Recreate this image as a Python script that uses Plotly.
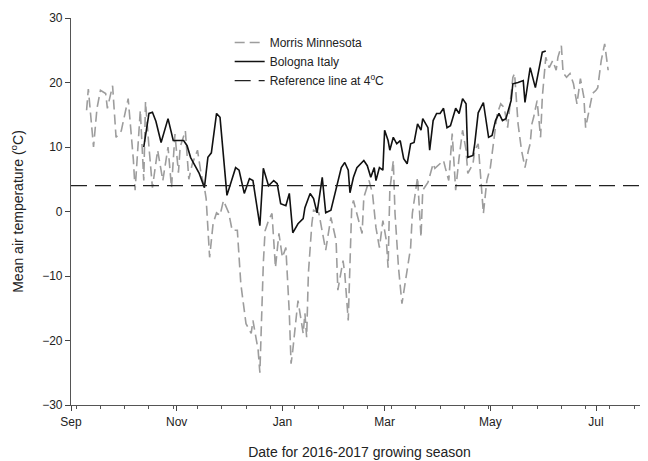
import pandas as pd
import plotly.graph_objects as go

season_start = pd.Timestamp("2016-09-01")

# Morris Minnesota: day of season (days after 1 Sep 2016) and mean air temperature (°C)
morris_day = [9, 10, 13, 15, 17, 20, 21, 24, 26, 29, 33, 36, 37, 40, 42, 43, 45, 47, 50, 53, 56, 58,
              60, 62, 63, 66, 68, 70, 73, 75, 77, 78, 80, 82, 84, 86, 88, 91, 93, 96, 98, 100, 101,
              104, 105, 108, 109, 111, 112, 114, 116, 118, 120, 122, 124, 126, 127, 128, 130, 131,
              134, 135, 136, 137, 139, 140, 143, 147, 150, 153, 154, 157, 158, 160, 162, 163, 166,
              168, 169, 172, 174, 176, 178, 180, 182, 183, 184, 186, 187, 189, 191, 193, 196, 197,
              199, 200, 202, 203, 206, 209, 210, 213, 215, 216, 218, 220, 222, 224, 226, 228, 229,
              232, 233, 235, 237, 238, 240, 242, 244, 246, 248, 250, 252, 255, 256, 258, 260, 262,
              264, 265, 266, 267, 269, 271, 272, 274, 276, 278, 280, 281, 283, 284, 286, 288, 290,
              292, 294, 296, 297, 299, 301, 303, 304, 306, 308, 310]
morris_temp = [15.7, 19.0, 10.0, 16.0, 18.8, 18.3, 16.0, 19.5, 11.5, 12.5, 17.5, 8.0, 3.3, 15.7, 4.8,
               17.0, 10.0, 3.7, 9.5, 4.8, 10.0, 3.7,
               12.0, 6.0, 10.0, 12.5, 5.0, 7.4, 9.5, 6.0, 3.7, 2.0, -7.1, -1.9, -0.2, -0.6, 1.7,
               -0.2, -2.9, -2.9, -11.2, -14.9, -17.4,
               -18.9, -16.9, -21.5, -25.0, -8.0, -3.0, -1.4, -0.3, -8.7, -3.4, -7.1, -5.6, -15.8,
               -23.6, -21.5, -16.9, -13.8,
               -18.9, -15.8, -19.5, -9.6, -1.9, 0.2, -0.2, -6.0, -0.9, -4.5, -12.2, -7.6, -9.6,
               -16.9, 0.6, 1.7, -1.4,
               -3.4, 2.2, 4.8, 2.8, -2.5, -5.6, -1.4, -4.5, -8.7, 3.3, 7.9, -0.3, -8.7, -14.3,
               -10.7, -5.6, -0.3,
               3.3, 5.3, -4.0, 3.3, 4.5, 7.4, 6.7, 7.4, 7.9, 6.8, 4.8, 12.1, 3.3, 8.4, 12.6, 9.5,
               5.9,
               7.4, 9.5, 10.5, 3.3, -0.3, 4.8, 6.8, 11.0, 15.2, 16.7, 16.1, 13.0, 20.8, 21.4, 13.6,
               9.5, 6.8,
               9.5, 10.5, 13.6, 14.6, 17.2, 11.5, 17.7, 23.9, 22.3, 23.4, 21.9, 23.9, 25.7, 21.5,
               20.8, 21.4, 19.8,
               16.7, 20.6, 17.7, 13.0, 15.7, 18.3, 18.8, 19.2, 23.4, 26.0, 21.9]

# Bologna Italy: day of season and mean air temperature (°C)
bologna_day = [42, 45, 47, 49, 52, 56, 59, 62, 65, 67, 69, 71, 74, 77, 79, 81, 84, 86, 88, 90, 95,
               97, 100, 103, 105, 109, 111, 114, 117, 119, 121, 124, 126, 128, 131, 134, 135, 138,
               140, 142, 145, 147, 150, 153, 156, 158, 160, 161, 163, 165, 169, 171, 173, 175, 176,
               178, 180, 181, 183, 184, 186, 188, 190, 192, 194, 196, 198, 200, 202, 203, 206, 207,
               209, 211, 213, 215, 217, 219, 222, 224, 226, 228, 229, 232, 233, 235, 238, 241, 243,
               245, 247, 249, 251, 254, 255, 258, 261, 262, 265, 268, 272, 274]
bologna_temp = [10.0, 15.2, 15.4, 14.0, 10.7, 14.4, 11.0, 11.0, 11.0, 10.2, 8.4, 7.4, 5.9, 3.7, 8.4,
                9.1, 15.2, 14.6, 8.4, 2.5, 6.8,
                6.4, 2.8, 5.1, 4.8, -2.2, 6.7, 4.0, 4.8, 4.3, 1.2, 0.9, 2.8, -3.3, -1.9, -1.1, 0.6,
                2.8,
                2.0, -0.2, 5.3, -0.2, 0.2, 3.7, 6.8, 7.6, 6.4, 2.9, 5.3, 6.8, 7.9, 7.1, 5.3, 6.8,
                4.8,
                6.8, 6.4, 12.6, 11.0, 9.5, 11.5, 10.5, 11.0, 8.2, 7.4, 10.5, 10.7, 13.6, 12.6, 14.4,
                13.0, 9.5,
                14.1, 15.2, 15.2, 16.0, 13.0, 13.3, 16.0, 15.2, 17.5, 16.7, 8.4, 8.7, 10.5, 15.3,
                16.9, 11.5, 11.8,
                14.1, 15.2, 14.1, 14.4, 17.2, 19.8, 20.0, 20.3, 16.9, 22.3, 19.2, 24.7, 24.9]

reference_temp = 4
axis_start, axis_end = "2016-09-01", "2017-07-31"

morris_dates = season_start + pd.to_timedelta(morris_day, unit="D")
bologna_dates = season_start + pd.to_timedelta(bologna_day, unit="D")

FONT = "Liberation Sans, Arial, sans-serif"

fig = go.Figure()
fig.add_trace(go.Scatter(
    x=morris_dates, y=morris_temp, mode="lines", name="Morris Minnesota",
    line=dict(color="#9d9d9d", width=1.6, dash="10px,5px"),
))
fig.add_trace(go.Scatter(
    x=bologna_dates, y=bologna_temp, mode="lines", name="Bologna Italy",
    line=dict(color="#111111", width=1.6),
))
fig.add_trace(go.Scatter(
    x=[axis_start, axis_end], y=[reference_temp, reference_temp], mode="lines",
    name="Reference line at 4<sup>o</sup>C",
    line=dict(color="#222222", width=1.3, dash="16px,8px"),
))

fig.update_layout(
    width=640, height=453,
    margin=dict(l=63, r=0, t=10, b=56),
    paper_bgcolor="white", plot_bgcolor="white",
    font=dict(family=FONT, size=12, color="#222222"),
    showlegend=True,
    legend=dict(
        x=0.275, y=0.974, xanchor="left", yanchor="top",
        bgcolor="rgba(0,0,0,0)", borderwidth=0,
        font=dict(family=FONT, size=12, color="#222222"),
        itemwidth=30, tracegroupgap=0,
    ),
    xaxis=dict(
        type="date", range=[axis_start, axis_end],
        tickmode="linear", tick0="2016-09-01", dtick="M2", tickformat="%b",
        ticks="outside", ticklen=5, tickcolor="#444444",
        showline=True, linecolor="#555555", linewidth=1.2,
        showgrid=False, zeroline=False,
        tickfont=dict(size=12),
        minor=dict(ticks="outside", ticklen=3, tickcolor="#555555",
                   dtick=14 * 86400000, tick0="2016-09-04", showgrid=False),
        title=dict(text="Date for 2016-2017 growing season", font=dict(size=14), standoff=19),
    ),
    yaxis=dict(
        range=[-30, 30], tickmode="linear", tick0=-30, dtick=10,
        ticks="outside", ticklen=5, tickcolor="#444444",
        showline=True, linecolor="#555555", linewidth=1.2,
        showgrid=False, zeroline=False,
        tickfont=dict(size=12),
        title=dict(text="Mean air temperature (<sup>o</sup>C)", font=dict(size=14), standoff=15),
    ),
)

fig.write_html("out.html")
